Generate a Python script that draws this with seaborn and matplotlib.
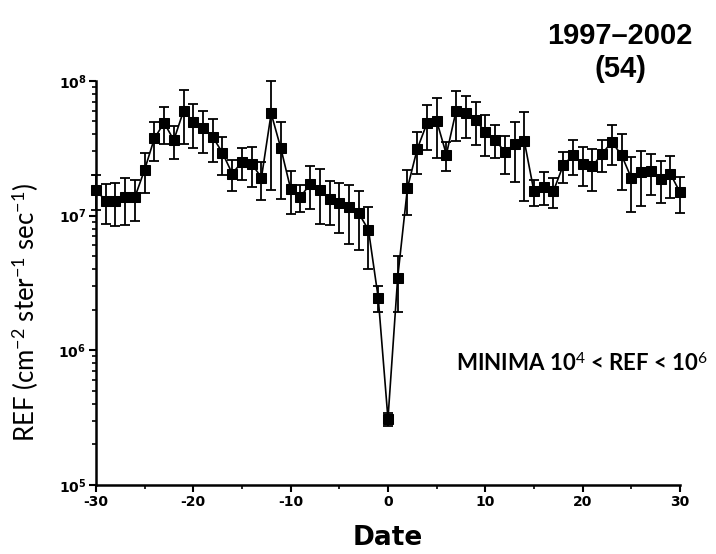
import matplotlib
matplotlib.use("Agg")
import matplotlib.pyplot as plt
import numpy as np
import pandas as pd
import seaborn as sns
from matplotlib.ticker import LogLocator, MultipleLocator, NullFormatter

# Superposed-epoch profile of REF around the minima (day 0)
days = list(range(-30, 31))
ref = [
    1.55e7, 1.29e7, 1.29e7, 1.37e7, 1.37e7, 2.19e7, 3.74e7, 4.89e7, 3.63e7, 6.00e7,
    4.97e7, 4.44e7, 3.84e7, 2.92e7, 2.05e7, 2.50e7, 2.43e7, 1.91e7, 5.74e7, 3.15e7,
    1.58e7, 1.37e7, 1.72e7, 1.54e7, 1.33e7, 1.24e7, 1.15e7, 1.04e7, 7.82e6, 2.45e6,
    3.10e5,
    3.47e6, 1.60e7, 3.11e7, 4.83e7, 5.06e7, 2.84e7, 6.00e7, 5.74e7, 5.12e7, 4.19e7,
    3.67e7, 2.97e7, 3.39e7, 3.59e7, 1.51e7, 1.64e7, 1.52e7, 2.36e7, 2.81e7, 2.43e7,
    2.32e7, 2.88e7, 3.52e7, 2.81e7, 1.90e7, 2.10e7, 2.14e7, 1.88e7, 2.05e7, 1.49e7,
]
ref_err = [
    4.5e6, 4.2e6, 4.6e6, 5.2e6, 4.6e6, 7.2e6, 1.20e7, 1.50e7, 1.00e7, 2.60e7,
    1.80e7, 1.50e7, 1.35e7, 9.3e6, 5.2e6, 6.7e6, 8.0e6, 6.0e6, 4.20e7, 1.82e7,
    5.6e6, 3.1e6, 6.1e6, 6.7e6, 4.8e6, 5.0e6, 5.3e6, 4.8e6, 3.8e6, 5.3e5,
    3.5e4,
    1.55e6, 5.9e6, 1.08e7, 1.75e7, 2.40e7, 7.0e6, 2.45e7, 2.00e7, 1.80e7, 1.43e7,
    1.00e7, 9.5e6, 1.60e7, 2.30e7, 3.4e6, 4.5e6, 3.8e6, 6.1e6, 8.2e6, 7.8e6,
    8.0e6, 7.8e6, 1.15e7, 1.25e7, 8.3e6, 9.2e6, 7.3e6, 6.5e6, 7.0e6, 4.5e6,
]

x_ticks = [-30, -20, -10, 0, 10, 20, 30]
x_tick_labels = ["-30", "-20", "-10", "0", "10", "20", "30"]
y_ticks = [1e5, 1e6, 1e7, 1e8]
y_tick_labels = [r"$\mathbf{10^{5}}$", r"$\mathbf{10^{6}}$", r"$\mathbf{10^{7}}$", r"$\mathbf{10^{8}}$"]

df = pd.DataFrame({"Date": days, "REF": ref, "err": ref_err})

sns.set_style("ticks")
plt.rcParams.update({
    "font.family": ["DejaVu Sans"],
    "text.color": "black",
    "axes.labelcolor": "black",
    "xtick.color": "black",
    "ytick.color": "black",
    "mathtext.fontset": "custom",
    "mathtext.rm": "Lato",
    "mathtext.it": "Lato:italic",
    "mathtext.bf": "DejaVu Sans:bold",
})

fig = plt.figure(figsize=(7.16, 5.54), dpi=100)
ax = fig.add_axes([0.134, 0.1245, 0.8157, 0.7295])

ax.errorbar(df["Date"], df["REF"], yerr=df["err"], fmt="none", ecolor="black",
            elinewidth=1.3, capsize=3.6, capthick=1.3, zorder=2, clip_on=False)
sns.lineplot(data=df, x="Date", y="REF", ax=ax, color="black", linewidth=1.2,
             marker="s", markersize=7, markeredgecolor="black",
             markerfacecolor="black", zorder=3, clip_on=False)

ax.set_yscale("log")
ax.set_xlim(-30, 30)
ax.set_ylim(1e5, 1e8)

ax.set_xticks(x_ticks, labels=x_tick_labels)
ax.xaxis.set_minor_locator(MultipleLocator(5))
ax.set_yticks(y_ticks, labels=y_tick_labels)
ax.yaxis.set_minor_locator(LogLocator(base=10, subs=np.arange(2, 10)))
ax.yaxis.set_minor_formatter(NullFormatter())

for lab in ax.get_xticklabels():
    lab.set_fontweight("bold")
ax.tick_params(axis="both", which="major", direction="out", length=5, width=1.5,
               labelsize=10, pad=2, colors="black")
ax.tick_params(axis="both", which="minor", direction="out", length=3, width=1.2)

sns.despine(ax=ax)
for side in ("left", "bottom"):
    ax.spines[side].set_linewidth(1.8)
    ax.spines[side].set_color("black")

ax.set_xlabel("Date", fontsize=19, fontweight="bold", labelpad=12, color="black")
ax.set_ylabel("")
fig.text(0.035, 1 - 312 / 554, r"REF (cm$^{-2}$ ster$^{-1}$ sec$^{-1}$)",
         rotation=90, ha="center", va="center", fontsize=18.5, family="Lato",
         color="black")

ax.text(7.0, 7.9e5, r"MINIMA 10$^{4}$ < REF < 10$^{6}$", ha="left", va="center",
        fontsize=16, fontweight="bold", family="Lato", color="black",
        clip_on=False)

fig.text(620 / 716, 1 - 36 / 554, "1997\u20132002", ha="center", va="center",
         fontsize=21, fontweight="bold", family="Liberation Sans", color="black")
fig.text(620 / 716, 1 - 69 / 554, "(54)", ha="center", va="center",
         fontsize=21, fontweight="bold", family="Liberation Sans", color="black")

fig.savefig("out.png", dpi=100)
